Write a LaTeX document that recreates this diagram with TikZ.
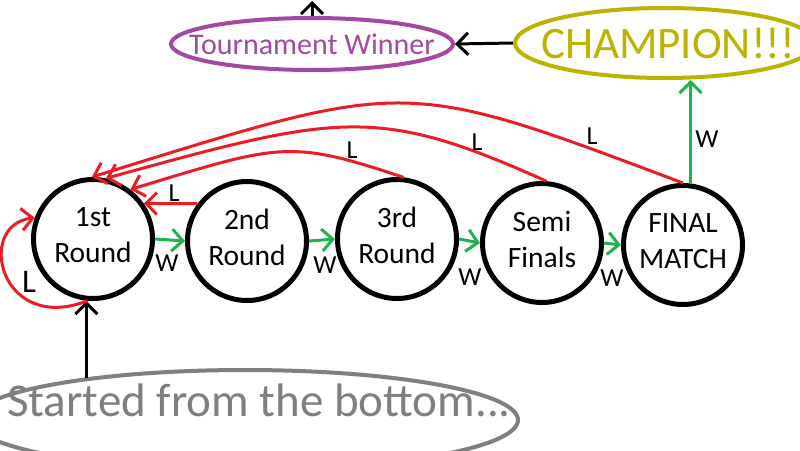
\documentclass[tikz,border=0pt]{standalone}
\usepackage{fontspec}
\setmainfont{Carlito}
\usetikzlibrary{arrows.meta,shapes.geometric}
\definecolor{pred}{RGB}{237,28,36}
\definecolor{pgreen}{RGB}{34,177,76}
\definecolor{ppurple}{RGB}{163,73,164}
\definecolor{polive}{RGB}{186,180,0}
\definecolor{pgray}{RGB}{127,127,127}
\begin{document}
\begin{tikzpicture}[x=1pt,y=-1pt,
  roundnode/.style={circle, draw, line width=5pt, minimum size=119pt, inner sep=0pt, align=center, text depth=8pt, font=\fontsize{29.5}{36}\selectfont},
  arr/.style={line width=3pt, -{Straight Barb[length=11pt,width=22pt]}},
  win/.style={arr, pgreen},
  lose/.style={arr, pred},
  lbl/.style={font=\fontsize{26}{26}\selectfont, inner sep=0pt},
]
\useasboundingbox (0,0) rectangle (800,450);
\fill[white] (0,0) rectangle (800,450);

% rounds
\node[roundnode] (r1) at (93,239) {1st\\Round};
\node[roundnode] (r2) at (247,241) {2nd\\Round};
\node[roundnode] (r3) at (397,239) {3rd\\Round};
\node[roundnode] (sf) at (542,243) {Semi\\Finals};
\node[roundnode] (fm) at (683,245) {FINAL\\MATCH};

% top ellipses
\node[ellipse, draw=ppurple, line width=4pt, minimum width=282pt, minimum height=52pt, inner sep=0pt,
  text=ppurple, font=\fontsize{30}{30}\selectfont] (tw) at (312,44) {\makebox[0pt]{Tournament Winner}};
\node[ellipse, draw=polive, line width=4pt, minimum width=300pt, minimum height=70pt, inner sep=0pt,
  text=polive, font=\fontsize{45}{45}\selectfont] (ch) at (665,43) {\makebox[0pt]{\hspace{6pt}CHAMPION!!!}};

% bottom ellipse
\node[ellipse, draw=pgray, line width=4pt, minimum width=546pt, minimum height=100pt, inner sep=0pt] (st) at (245,420) {};
\node[text=pgray, font=\fontsize{47}{47}\selectfont, inner sep=0pt, anchor=base] (stt) at (259,416) {Started from the bottom...};

% black arrows
\draw[arr, black] (st.165) -- (st.165 |- r1.south);
\draw[arr, black] (ch.west) -- (tw.east);
\coordinate (up) at (312,1);
\draw[arr, black] (tw.north) -- (up);

% wins
\draw[win] (r1.east) -- (r2.west);
\draw[win] (r2.east) -- (r3.west);
\draw[win] (r3.east) -- (sf.west);
\draw[win] (sf.east) -- (fm.west);
\draw[win] (fm.83) -- (fm.83 |- ch.south);
\node[lbl] (w1) at (167,263) {W};
\node[lbl] (w2) at (325,265) {W};
\node[lbl] (w3) at (470,277) {W};
\node[lbl] (w4) at (612,278) {W};
\node[lbl] (w5) at (707,139) {W};

% losses
\draw[lose] (r2.143) -- (r1.35);
\draw[lose] (r3.84) .. controls (289,139) and (280,144) .. (r1.53);
\draw[lose] (sf.86) .. controls (377,105) and (339,114) .. (r1.78);
\draw[lose] (fm.north) .. controls (399,76) and (409,79) .. (r1.91);
\draw[lose] (r1.265) .. controls (0,335) and (-25,225) .. (r1.160);
\node[lbl] (l1) at (174,193) {L};
\node[lbl] (l2) at (352,150) {L};
\node[lbl] (l3) at (477,142) {L};
\node[lbl] (l4) at (592,136) {L};
\node[lbl, font=\fontsize{33}{33}\selectfont] (l5) at (29,282) {L};
\end{tikzpicture}
\end{document}
